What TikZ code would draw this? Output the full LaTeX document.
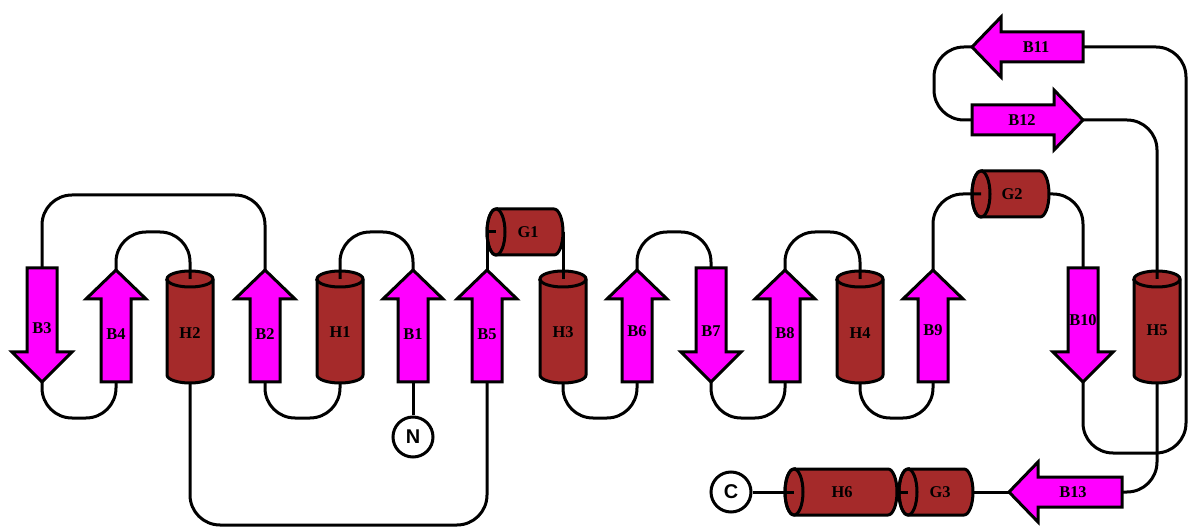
\documentclass[tikz,border=0pt]{standalone}
\usepackage{fontspec}
\setmainfont{Liberation Serif}
\newfontfamily\termfam{Liberation Sans}
\definecolor{strandc}{HTML}{FF00FF}
\definecolor{helixc}{HTML}{A52A2A}
\tikzset{
  conn/.style={draw=black, line width=3bp, rounded corners=30bp},
  strandbox/.style={fill=strandc, draw=black, line width=3bp, line join=miter},
  helixbox/.style={fill=helixc, draw=black, line width=3bp},
  lbl/.style={inner sep=0pt, font=\bfseries\fontsize{16.5}{16.5}\selectfont},
  term/.style={circle, draw=black, fill=white, line width=3bp, minimum size=40bp, inner sep=0pt, font=\termfam\bfseries\fontsize{20}{20}\selectfont}
}
% up strand: name, x, label, label y
\newcommand\strandU[4]{%
  \draw[strandbox] (#2-15,382) -- (#2-15,299) -- (#2-30,299) -- (#2,270) -- (#2+30,299) -- (#2+15,299) -- (#2+15,382) -- cycle;
  \node[lbl] (#1) at (#2,#4) {#3};
  \coordinate (#1t) at (#2,270);
  \coordinate (#1b) at (#2,382);}
% down strand: name, x, label, label y
\newcommand\strandD[4]{%
  \draw[strandbox] (#2-15,268) -- (#2-15,352) -- (#2-30,352) -- (#2,382) -- (#2+30,352) -- (#2+15,352) -- (#2+15,268) -- cycle;
  \node[lbl] (#1) at (#2,#4) {#3};
  \coordinate (#1t) at (#2,382);
  \coordinate (#1b) at (#2,268);}
% horizontal strand: name, tip x, head base x, tail x, y, label, label x
\newcommand\strandH[7]{%
  \draw[strandbox] (#4,#5-15) -- (#3,#5-15) -- (#3,#5-30) -- (#2,#5) -- (#3,#5+30) -- (#3,#5+15) -- (#4,#5+15) -- cycle;
  \node[lbl] (#1) at (#7,#5) {#6};
  \coordinate (#1t) at (#2,#5);
  \coordinate (#1b) at (#4,#5);}
% vertical helix: name, x, label, label y
\newcommand\helixV[4]{%
  \filldraw[helixbox] (#2-23,279) -- (#2-23,375) arc[start angle=180,end angle=360,x radius=23bp,y radius=8bp] -- (#2+23,279) arc[start angle=0,end angle=180,x radius=23bp,y radius=8bp] -- cycle;
  \draw[helixbox, fill=none] (#2+23,279) arc[start angle=0,end angle=-180,x radius=23bp,y radius=8bp];
  \node[lbl] (#1) at (#2,#4) {#3};
  \coordinate (#1t) at (#2,279);
  \coordinate (#1b) at (#2,383);}
% horizontal helix: name, left x, right x, y, label, label x
\newcommand\helixH[6]{%
  \filldraw[helixbox] (#2+9,#4-23) -- (#3-9,#4-23) arc[start angle=90,end angle=-90,x radius=9bp,y radius=23bp] -- (#2+9,#4+23) arc[start angle=270,end angle=90,x radius=9bp,y radius=23bp] -- cycle;
  \draw[helixbox, fill=none] (#2+9,#4) ellipse[x radius=9bp, y radius=23bp];
  \node[lbl] (#1) at (#6,#4) {#5};
  \coordinate (#1l) at (#2+9,#4);
  \coordinate (#1r) at (#3,#4);}
\begin{document}
\begin{tikzpicture}[x=1bp,y=-1bp]
\useasboundingbox (0,0) rectangle (1188,529);
% shapes
\strandD{B3}{42}{B3}{328}
\strandU{B4}{116}{B4}{334}
\helixV{H2}{190}{H2}{333}
\strandU{B2}{265}{B2}{334}
\helixV{H1}{340}{H1}{332}
\strandU{B1}{413}{B1}{334}
\strandU{B5}{487}{B5}{334}
\helixV{H3}{563}{H3}{332}
\strandU{B6}{637}{B6}{331}
\strandD{B7}{711}{B7}{331}
\strandU{B8}{785}{B8}{333}
\helixV{H4}{860}{H4}{333}
\strandU{B9}{933}{B9}{330}
\strandD{B10}{1083}{B10}{320}
\helixV{H5}{1157}{H5}{330}
\helixH{G1}{487}{563}{232}{G1}{528}
\helixH{G2}{972}{1049}{194}{G2}{1012}
\helixH{H6}{785}{897}{492}{H6}{842}
\helixH{G3}{899}{973}{492}{G3}{940}
\strandH{B11}{972}{1001}{1083}{47}{B11}{1036}
\strandH{B12}{1083}{1054}{972}{120}{B12}{1022}
\strandH{B13}{1009}{1038}{1122}{492}{B13}{1073}
\node[term] (N) at (413,437) {N};
\node[term] (C) at (731,492) {C};
\coordinate (R1) at (1186,453);
% connectors
\draw[conn] (B1b) -- (N);
\draw[conn] (B1t) -- ++(0,-38) -| (H1t);
\draw[conn] (H1b) -- ++(0,35) -| (B2b);
\draw[conn] (B2t) -- ++(0,-75) -| (B3b);
\draw[conn] (B3t) -- ++(0,36) -| (B4b);
\draw[conn] (B4t) -- ++(0,-38) -| (H2t);
\draw[conn] (H2b) -- ++(0,142) -| (B5b);
\draw[conn, rounded corners=0] (B5t) |- (G1l);
\draw[conn] (G1r) -- (H3t);
\draw[conn] (H3b) -- ++(0,35) -| (B6b);
\draw[conn] (B6t) -- ++(0,-38) -| (B7b);
\draw[conn] (B7t) -- ++(0,36) -| (B8b);
\draw[conn] (B8t) -- ++(0,-38) -| (H4t);
\draw[conn] (H4b) -- ++(0,35) -| (B9b);
\draw[conn] (B9t) |- (G2l);
\draw[conn] (G2r) -| (B10b);
\draw[conn] (B10t) |- (R1) |- (B11b);
\draw[conn] (B11t) -- ++(-38,0) |- (B12b);
\draw[conn] (B12t) -| (H5t);
\draw[conn] (H5b) |- (B13b);
\draw[conn] (B13t) -- (G3r);
\draw[conn] (H6r) -- (G3l);
\draw[conn] (C) -- (H6l);
\end{tikzpicture}
\end{document}
